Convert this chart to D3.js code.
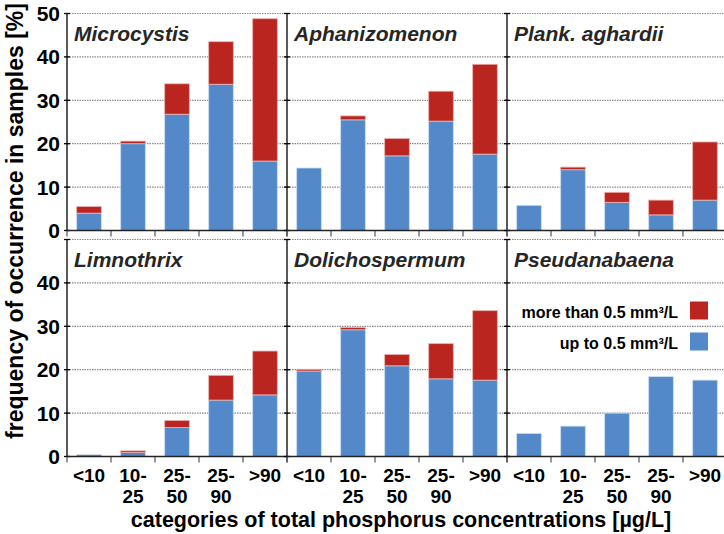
<!DOCTYPE html>
<html>
<head>
<meta charset="utf-8">
<script src="https://cdn.jsdelivr.net/npm/d3@7"></script>
<style>
  body { margin: 0; background: #fff; }
  svg { display: block; font-family: "Liberation Sans", Arial, sans-serif; font-weight: bold; }
</style>
</head>
<body>
<div id="chart"></div>
<script>
// DATA

// Categories of total phosphorus (two line tick labels)
const categories = ["<10", "10-25", "25-50", "25-90", ">90"];
const categoryLines = [["<10"], ["10-", "25"], ["25-", "50"], ["25-", "90"], [">90"]];
// Taxa, one panel each (row by row)
const taxa = ["Microcystis", "Aphanizomenon", "Plank. aghardii",
              "Limnothrix", "Dolichospermum", "Pseudanabaena"];
// Occurrence with biovolume up to 0.5 mm³/L [%]
const upTo = [
  [4.0, 20.0, 26.8, 33.7, 16.0],
  [14.4, 25.5, 17.2, 25.2, 17.6],
  [5.8, 14.0, 6.5, 3.6, 7.0],
  [0.4, 0.9, 6.7, 13.0, 14.2],
  [19.7, 29.2, 20.9, 17.9, 17.6],
  [5.3, 7.0, 10.0, 18.4, 17.6]
];
// Occurrence with biovolume more than 0.5 mm³/L [%]
const moreThan = [
  [1.5, 0.6, 7.0, 9.8, 32.8],
  [0.0, 0.9, 4.0, 6.9, 20.7],
  [0.0, 0.6, 2.3, 3.4, 13.4],
  [0.0, 0.4, 1.6, 5.7, 10.1],
  [0.4, 0.5, 2.6, 8.1, 16.0],
  [0.0, 0.0, 0.0, 0.0, 0.0]
];
const yTicks = [0, 10, 20, 30, 40, 50];
const legendLabels = ["more than 0.5 mm³/L", "up to 0.5 mm³/L"];

// LAYOUT
const width = 724, height = 534;
const left = 67, panelW = 220, panelH = 217;
const rowTops = [13.5, 239.5];
const blue = "#5389c8", red = "#ba2520";

const svg = d3.select("#chart").append("svg")
  .attr("width", width)
  .attr("height", height);

// scales shared by every panel
const xb = d3.scaleBand().domain(categories).range([0, panelW]);
const y = d3.scaleLinear().domain([0, 50]).range([panelH, 0]);
const barPad = 0.22; // fraction of band left empty on each side

const stack = d3.stack().keys(["up", "more"]);

taxa.forEach((name, t) => {
  const col = t % 3, row = Math.floor(t / 3);
  const g = svg.append("g")
    .attr("transform", `translate(${left + col * panelW},${rowTops[row]})`);

  // dotted grid lines
  g.selectAll(".grid")
    .data(yTicks.slice(1))
    .enter().append("line")
    .attr("x1", 0).attr("x2", panelW)
    .attr("y1", d => y(d)).attr("y2", d => y(d))
    .attr("stroke", "#8a8a8a")
    .attr("stroke-dasharray", "1.5,1")
    .attr("stroke-width", 1.2);

  // stacked bars
  const rows = categories.map((c, i) => ({ cat: c, up: upTo[t][i], more: moreThan[t][i] }));
  const layers = stack(rows);
  const colors = [blue, red];
  const strokes = ["#c9dcf0", "#eab0ad"];
  layers.forEach((layer, k) => {
    g.selectAll(".bar" + k)
      .data(layer.filter(d => d[1] - d[0] > 0))
      .enter().append("rect")
      .attr("x", d => xb(d.data.cat) + xb.bandwidth() * barPad)
      .attr("width", xb.bandwidth() * (1 - 2 * barPad))
      .attr("y", d => y(d[1]))
      .attr("height", d => y(d[0]) - y(d[1]))
      .attr("fill", colors[k])
      .attr("stroke", strokes[k])
      .attr("stroke-width", 0.8);
  });

  // left axis line with small ticks on both sides
  g.append("line")
    .attr("x1", 0).attr("x2", 0).attr("y1", 0).attr("y2", panelH)
    .attr("stroke", "#000").attr("stroke-width", 1.3);
  g.selectAll(".ytick")
    .data(yTicks)
    .enter().append("line")
    .attr("x1", -3).attr("x2", 3)
    .attr("y1", d => y(d)).attr("y2", d => y(d))
    .attr("stroke", "#000").attr("stroke-width", 1.3);

  // bottom axis with ticks at band boundaries
  g.append("line")
    .attr("x1", 0).attr("x2", panelW).attr("y1", panelH).attr("y2", panelH)
    .attr("stroke", "#222").attr("stroke-width", 1.5);
  g.selectAll(".xtick")
    .data(categories.map(c => xb(c)).concat([panelW]))
    .enter().append("line")
    .attr("x1", d => d).attr("x2", d => d)
    .attr("y1", panelH).attr("y2", panelH + 6)
    .attr("stroke", "#333").attr("stroke-width", 1);

  // panel title
  g.append("text")
    .attr("x", 7).attr("y", 27.5)
    .attr("font-size", 21)
    .attr("font-style", "italic")
    .attr("fill", "#262626")
    .text(name);

  // y tick labels on the first column
  if (col === 0) {
    g.selectAll(".ylab")
      .data(row === 0 ? yTicks : yTicks.slice(0, -1))
      .enter().append("text")
      .attr("x", -7)
      .attr("y", d => y(d))
      .attr("dy", "0.36em")
      .attr("text-anchor", "end")
      .attr("font-size", 21)
      .text(d => d);
  }

  // category labels under the bottom row
  if (row === 1) {
    const lab = g.selectAll(".xlab")
      .data(categories)
      .enter().append("text")
      .attr("text-anchor", "middle")
      .attr("font-size", 19)
      .attr("transform", d => `translate(${xb(d) + xb.bandwidth() / 2},${panelH + 25})`);
    lab.selectAll("tspan")
      .data((d, i) => categoryLines[i])
      .enter().append("tspan")
      .attr("x", 0)
      .attr("dy", (d, i) => i ? 21 : 0)
      .text(d => d);
  }

  // legend inside the last panel
  if (t === taxa.length - 1) {
    const leg = g.selectAll(".leg")
      .data(legendLabels)
      .enter().append("g")
      .attr("transform", (d, i) => `translate(0,${62 + i * 31})`);
    leg.append("rect")
      .attr("x", 183).attr("y", 0)
      .attr("width", 18).attr("height", 18)
      .attr("fill", (d, i) => i ? blue : red);
    leg.append("text")
      .attr("x", 171).attr("y", 16)
      .attr("text-anchor", "end")
      .attr("font-size", 16)
      .text(d => d);
  }
});

// axis titles
svg.append("text")
  .attr("transform", "translate(23,221) rotate(-90)")
  .attr("text-anchor", "middle")
  .attr("font-size", 23)
  .text("frequency of occurrence in samples [%]");

svg.append("text")
  .attr("x", left + panelW * 1.5 + 4)
  .attr("y", 527)
  .attr("text-anchor", "middle")
  .attr("font-size", 21.5)
  .text("categories of total phosphorus concentrations [µg/L]");
</script>
</body>
</html>
